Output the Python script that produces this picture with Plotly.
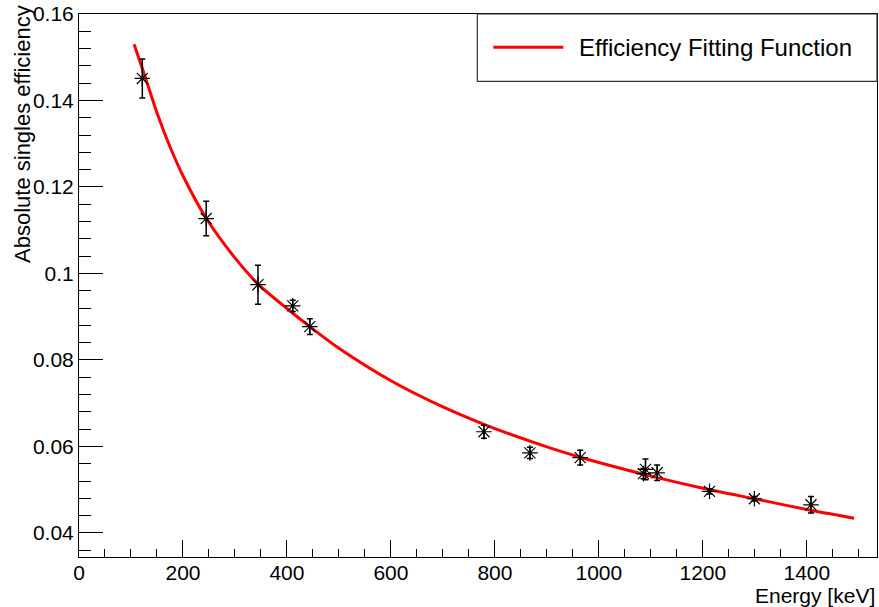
import plotly.graph_objects as go

# Measured efficiency points
energy = [121.8, 244.7, 344.3, 411.1, 444.0, 778.9, 867.4, 964.1, 1085.8, 1089.7, 1112.1, 1212.9, 1299.1, 1408.0]
eff = [0.1451, 0.1127, 0.0974, 0.0925, 0.0877, 0.0634, 0.0585, 0.0574, 0.0537, 0.0547, 0.0539, 0.0496, 0.0479, 0.0465]
eff_err = [0.0045, 0.0040, 0.0045, 0.0013, 0.0018, 0.0015, 0.0013, 0.0017, 0.0012, 0.0024, 0.0018, 0.0006, 0.0005, 0.0019]

# Fitting function
fit_energy = [106, 121.8, 135, 151, 175, 200, 245, 300, 344, 400, 444, 500, 600, 700, 779, 800,
              900, 964, 1000, 1100, 1200, 1299, 1400, 1491]
fit_eff = [0.1530, 0.1474, 0.1426, 0.1368, 0.1293, 0.1226, 0.1127, 0.10360, 0.09760, 0.09190, 0.08770,
           0.08270, 0.07520, 0.06915, 0.06510, 0.06412, 0.05990, 0.05750, 0.05627, 0.05313, 0.05035,
           0.04790, 0.04542, 0.04340]

x_ticks = [0, 200, 400, 600, 800, 1000, 1200, 1400]
x_ticktext = ["0", "200", "400", "600", "800", "1000", "1200", "1400"]
y_ticks = [0.04, 0.06, 0.08, 0.10, 0.12, 0.14, 0.16]
y_ticktext = ["0.04", "0.06", "0.08", "0.1", "0.12", "0.14", "0.16"]

legend_label = "Efficiency Fitting Function"
x_title = "Energy [keV]"
y_title = "Absolute singles efficiency"

W, H = 879, 607
ml, mr, mt, mb = 78.7, 2.3, 14.3, 50.3
pw = W - ml - mr
ph = H - mt - mb

def px(xpix):
    return (xpix - ml) / pw

def py(ypix):
    return (H - mb - ypix) / ph

FONT = "Liberation Sans, Arial, sans-serif"

fig = go.Figure()
fig.add_trace(go.Scatter(
    x=fit_energy, y=fit_eff, mode="lines",
    line=dict(color="#ff0000", width=3, shape="spline", smoothing=0.8),
    name=legend_label, showlegend=False, hoverinfo="skip"))
fig.add_trace(go.Scatter(
    x=energy, y=eff, mode="markers",
    marker=dict(symbol="asterisk-open", size=13, color="black",
                line=dict(color="black", width=1.2)),
    error_y=dict(type="data", array=eff_err, visible=True,
                 color="black", thickness=1.5, width=3),
    showlegend=False))

fig.update_layout(
    width=W, height=H,
    margin=dict(l=ml, r=mr, t=mt, b=mb, pad=0),
    paper_bgcolor="white", plot_bgcolor="white",
    font=dict(family=FONT, color="black", size=21),
    showlegend=False,
)
fig.update_xaxes(
    range=[0, 1535], showgrid=False, zeroline=False,
    showline=True, linecolor="black", linewidth=1, mirror=True,
    ticks="inside", ticklen=17, tickwidth=1, tickcolor="black",
    tickvals=x_ticks, ticktext=x_ticktext, ticklabelstandoff=-3,
    tickfont=dict(family=FONT, size=21, color="black"),
    minor=dict(ticks="inside", ticklen=8, dtick=50, tick0=0, tickcolor="black", tickwidth=1, showgrid=False),
)
fig.update_yaxes(
    range=[0.03443, 0.16], showgrid=False, zeroline=False,
    showline=True, linecolor="black", linewidth=1, mirror=True,
    ticks="inside", ticklen=24, tickwidth=1, tickcolor="black",
    tickvals=y_ticks, ticktext=y_ticktext,
    tickfont=dict(family=FONT, size=21, color="black"),
    minor=dict(ticks="inside", ticklen=12, dtick=0.004, tick0=0, tickcolor="black", tickwidth=1, showgrid=False),
)

# Axis titles (ROOT style: aligned to axis ends)
fig.add_annotation(text=x_title, xref="paper", yref="paper",
                   x=1.0, y=py(595.5), xanchor="right", yanchor="middle",
                   showarrow=False, font=dict(family=FONT, size=21, color="black"))
fig.add_annotation(text=y_title, xref="paper", yref="paper",
                   x=px(22), y=py(3), xanchor="center", yanchor="top", textangle=-90,
                   showarrow=False, font=dict(family=FONT, size=22, color="black"))

# Legend box
fig.add_shape(type="rect", xref="paper", yref="paper",
              x0=px(477), x1=px(876.7), y0=py(81.7), y1=py(14.3),
              line=dict(color="#333333", width=1.2), fillcolor="white", layer="above")
fig.add_shape(type="line", xref="paper", yref="paper",
              x0=px(493), x1=px(563), y0=py(47.5), y1=py(47.5),
              line=dict(color="#ff0000", width=3), layer="above")
fig.add_annotation(text=legend_label, xref="paper", yref="paper",
                   x=px(577), y=py(47.5), xanchor="left", yanchor="middle",
                   showarrow=False, font=dict(family=FONT, size=24, color="black"))

fig.write_html("out.html")
